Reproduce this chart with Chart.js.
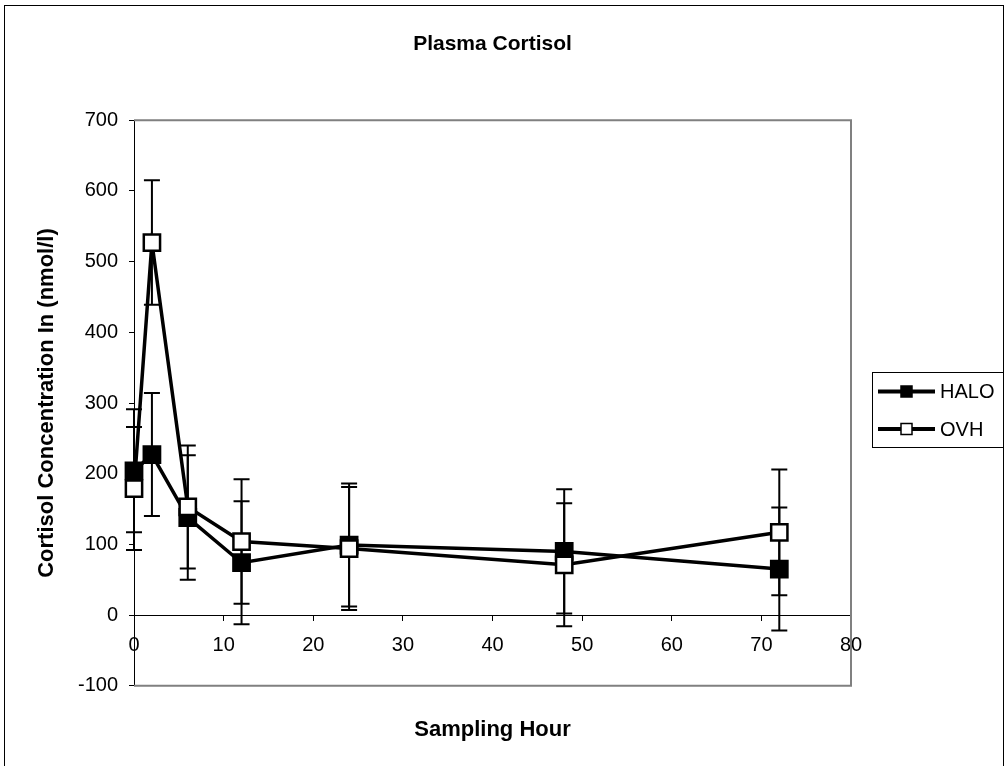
<!DOCTYPE html>
<html><head><meta charset="utf-8">
<script src="https://cdn.jsdelivr.net/npm/chart.js@4"></script>
<style>html,body{margin:0;padding:0;background:#fff;}</style>
</head><body>
<canvas id="c" width="1005" height="766"></canvas>
<script>
// ---- data ----
const hours    = [0, 2, 6, 12, 24, 48, 72];
const haloMean = [204, 227, 138, 74, 99, 90, 65];
const haloErr  = [87, 87, 88, 87, 87, 88, 87];
const ovhMean  = [179, 527, 153, 104, 94, 71, 117];
const ovhErr   = [87, 88, 87, 88, 87, 87, 89];
const seriesNames = ['HALO', 'OVH'];
const chartTitle = 'Plasma Cortisol';
const xTitle = 'Sampling Hour';
const yTitle = 'Cortisol Concentration In (nmol/l)';
const xRange = [0, 80, 10];
const yRange = [-100, 700, 100];

const FONT = '"Liberation Sans", Arial, sans-serif';

function pts(xs, ys) { return xs.map((x, i) => ({x: x, y: ys[i]})); }

const errorBars = {
  id: 'errorBars',
  beforeDatasetsDraw(chart) {
    const {ctx, chartArea: a, scales: {x, y}} = chart;
    // plot area frame (top, right, bottom)
    ctx.save();
    ctx.strokeStyle = '#808080';
    ctx.lineWidth = 2;
    ctx.beginPath();
    ctx.moveTo(a.left, a.top); ctx.lineTo(a.right, a.top);
    ctx.lineTo(a.right, a.bottom); ctx.lineTo(a.left, a.bottom);
    ctx.stroke();
    ctx.restore();
    // error bars
    ctx.save();
    ctx.strokeStyle = '#000';
    ctx.lineWidth = 2;
    chart.data.datasets.forEach(ds => {
      ds.data.forEach((p, i) => {
        const e = ds.errors[i];
        const px = x.getPixelForValue(p.x);
        const yt = y.getPixelForValue(p.y + e);
        const yb = y.getPixelForValue(p.y - e);
        ctx.beginPath();
        ctx.moveTo(px, yt); ctx.lineTo(px, yb);
        ctx.moveTo(px - 8, yt); ctx.lineTo(px + 8, yt);
        ctx.moveTo(px - 8, yb); ctx.lineTo(px + 8, yb);
        ctx.stroke();
      });
    });
    ctx.restore();
  }
};

const frame = {
  id: 'frame',
  beforeDraw(chart) {
    const ctx = chart.ctx;
    ctx.save();
    ctx.fillStyle = '#fff';
    ctx.fillRect(0, 0, chart.width, chart.height);
    ctx.strokeStyle = '#000';
    ctx.lineWidth = 1;
    ctx.strokeRect(4.5, 5.5, 999, 800);
    ctx.restore();
  },
  afterDraw(chart) {
    // legend
    const ctx = chart.ctx;
    ctx.save();
    ctx.strokeStyle = '#000';
    ctx.lineWidth = 1;
    ctx.strokeRect(872.5, 372.5, 131, 75);
    const rows = [391.5, 429];
    chart.data.datasets.slice().sort((a, b) => a.legendIndex - b.legendIndex).forEach((ds, k) => {
      const yy = rows[k];
      ctx.strokeStyle = '#000';
      ctx.lineWidth = 4;
      ctx.beginPath(); ctx.moveTo(878, yy); ctx.lineTo(935, yy); ctx.stroke();
      ctx.fillStyle = ds.pointBackgroundColor;
      ctx.fillRect(901, yy - 5.5, 11, 11);
      ctx.lineWidth = 1.5;
      ctx.strokeRect(901, yy - 5.5, 11, 11);
      ctx.fillStyle = '#000';
      ctx.font = '20px ' + FONT;
      ctx.textBaseline = 'middle';
      ctx.textAlign = 'left';
      ctx.fillText(ds.label, 940, yy + 1);
    });
    ctx.restore();
  }
};

new Chart(document.getElementById('c'), {
  type: 'line',
  data: {
    datasets: [
      {
        label: seriesNames[0], legendIndex: 0, order: 2,
        data: pts(hours, haloMean), errors: haloErr,
        borderColor: '#000', borderWidth: 3.5,
        pointStyle: 'rect', pointRadius: 11.5, pointBorderWidth: 2.5,
        pointBackgroundColor: '#000', pointBorderColor: '#000',
        clip: false, tension: 0
      },
      {
        label: seriesNames[1], legendIndex: 1, order: 1,
        data: pts(hours, ovhMean), errors: ovhErr,
        borderColor: '#000', borderWidth: 3.5,
        pointStyle: 'rect', pointRadius: 11.5, pointBorderWidth: 2.5,
        pointBackgroundColor: '#fff', pointBorderColor: '#000',
        clip: false, tension: 0
      }
    ]
  },
  options: {
    responsive: false,
    animation: false,
    events: [],
    layout: { padding: { left: 34, right: 154, top: 0, bottom: 0 } },
    plugins: {
      legend: { display: false },
      tooltip: { enabled: false },
      title: {
        display: true, text: chartTitle, fullSize: false, color: '#000',
        font: { family: FONT, size: 21, weight: 'bold', lineHeight: 1.2 },
        padding: { top: 32, bottom: 63.1 }
      },
      subtitle: {
        display: true, text: xTitle, position: 'bottom', fullSize: false, color: '#000',
        font: { family: FONT, size: 22, weight: 'bold', lineHeight: 1.2 },
        padding: { top: 31.1, bottom: 22.8 }
      }
    },
    scales: {
      x: {
        type: 'linear', min: xRange[0], max: xRange[1],
        position: { y: 0 },
        ticks: { stepSize: xRange[2], color: '#000', padding: 13.5, maxRotation: 0,
                 font: { family: FONT, size: 20 } },
        grid: { drawOnChartArea: false, drawTicks: true, tickLength: 5, tickColor: '#000', tickWidth: 1 },
        border: { display: true, color: '#000', width: 1 },
        afterFit(s) { s.height = 0; }
      },
      y: {
        type: 'linear', min: yRange[0], max: yRange[1],
        position: 'left',
        ticks: { stepSize: yRange[2], color: '#000', padding: 11,
                 font: { family: FONT, size: 20 } },
        grid: { drawOnChartArea: false, drawTicks: true, tickLength: 5, tickColor: '#000', tickWidth: 1 },
        border: { display: true, color: '#000', width: 1 },
        title: { display: true, text: yTitle, color: '#000', padding: { top: 0, bottom: 0 },
                 font: { family: FONT, size: 22, weight: 'bold', lineHeight: 1.2 } },
        afterFit(s) { s.width = 100; }
      }
    }
  },
  plugins: [frame, errorBars]
});
</script>
</body></html>
